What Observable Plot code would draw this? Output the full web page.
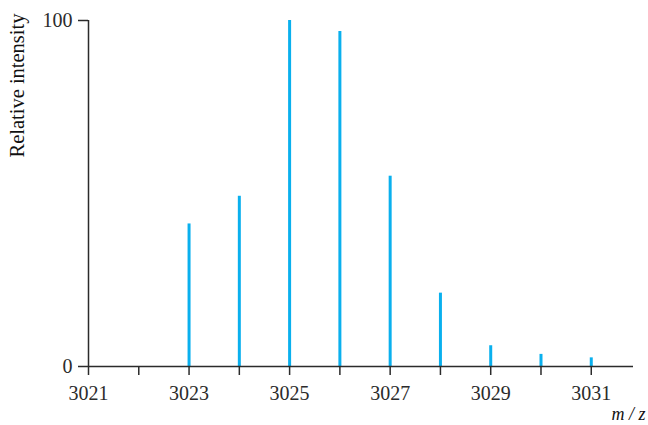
<!DOCTYPE html>
<html>
<head>
<meta charset="utf-8">
<script src="https://cdn.jsdelivr.net/npm/d3@7"></script>
<script src="https://cdn.jsdelivr.net/npm/@observablehq/plot@0.6"></script>
<style>
  html, body { margin: 0; padding: 0; background: #fff; }
  svg { display: block; }
</style>
</head>
<body>
<div id="chart"></div>
<script>
const mz = [3023, 3024, 3025, 3026, 3027, 3028, 3029, 3030, 3031];
const intensity = [41.2, 49.2, 100, 96.8, 55.0, 21.2, 6.0, 3.5, 2.5];
const xTicks = [3021, 3022, 3023, 3024, 3025, 3026, 3027, 3028, 3029, 3030, 3031];
const xLabelTicks = [3021, 3023, 3025, 3027, 3029, 3031];
const yTicks = [0, 100];
const xDomain = [3021, 3031.84];
const yLabel = "Relative intensity";
const xLabel = "m / z";

const data = mz.map((m, i) => ({mz: m, intensity: intensity[i]}));
const axisColor = "#2b2b2b";

const chart = Plot.plot({
  width: 648,
  height: 425,
  marginLeft: 88,
  marginRight: 15,
  marginTop: 20,
  marginBottom: 59,
  style: {fontFamily: "'Liberation Serif', 'Times New Roman', serif", fontSize: "20px", color: axisColor, background: "#fff"},
  x: {domain: xDomain},
  y: {domain: [0, 100]},
  marks: [
    Plot.ruleX(data, {x: "mz", y1: 0, y2: "intensity", stroke: "#0ab0ee", strokeWidth: 3}),
    Plot.axisX({ticks: xTicks, tickSize: 9, tickPadding: 10, tickFormat: d => xLabelTicks.includes(d) ? String(d) : "", label: null, stroke: axisColor, strokeWidth: 1.5, fontSize: 20}),
    Plot.axisY({ticks: yTicks, tickSize: 10, tickPadding: 6, label: null, stroke: axisColor, strokeWidth: 1.5, fontSize: 20}),
    Plot.ruleY([0], {x1: xDomain[0], x2: xDomain[1], stroke: axisColor, strokeWidth: 1.5}),
    Plot.ruleX([xDomain[0]], {y1: 0, y2: 100, stroke: axisColor, strokeWidth: 1.5}),
    Plot.text([yLabel], {frameAnchor: "top-left", rotate: -90, textAnchor: "end", dx: -79, dy: -7, fontSize: 20.5, fill: "#111"}),
    Plot.text([xLabel], {frameAnchor: "bottom-right", textAnchor: "start", dx: -22, dy: 53, fontSize: 18, fontStyle: "italic", fill: "#111"})
  ]
});
document.getElementById("chart").appendChild(chart);
</script>
</body>
</html>
